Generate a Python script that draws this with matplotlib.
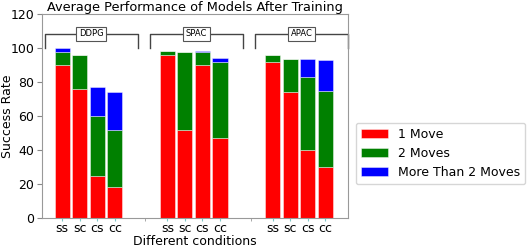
import matplotlib
matplotlib.use('Agg')
import matplotlib.pyplot as plt
import numpy as np

# data (segment heights, stacked)
models = ['DDPG', 'SPAC', 'APAC']
conditions = ['ss', 'sc', 'cs', 'cc']
one_move = [90, 76, 25, 18, 96, 52, 90, 47, 92, 74, 40, 30]
two_moves = [7.5, 20, 35, 34, 2, 45.5, 7.5, 45, 4, 19.5, 43, 45]
more_moves = [2.5, 0, 17, 22, 0, 0, 0.5, 2, 0, 0, 10.5, 18]
series_labels = ['1 Move', '2 Moves', 'More Than 2 Moves']

def bar_positions():
  xs = []
  for g in range(len(models)):
    for c in range(len(conditions)):
      xs.append(g * 6 + c)
  return np.array(xs)

def add_bracket(ax, x0, x1, label):
  ax.plot([x0, x0, x1, x1], [100, 108.2, 108.2, 100], color='#444444', lw=1.0, clip_on=False)
  ax.text((x0 + x1) / 2, 108.5, label, ha='center', va='center', fontsize=6,
          bbox=dict(boxstyle='square,pad=0.3', fc='white', ec='#555555', lw=0.8))

if __name__ == '__main__':
  fs = 9
  fig = plt.figure(figsize=(5.29, 2.46), dpi=100)
  ax = fig.add_axes([42 / 529, 28 / 246, 306 / 529, 204 / 246])
  x = bar_positions()
  b1 = np.array(one_move)
  b2 = np.array(two_moves)
  b3 = np.array(more_moves)
  ec = (1, 1, 1, 0.5)
  ax.bar(x, b1, width=0.86, color='red', edgecolor=ec, lw=0.6, label=series_labels[0])
  ax.bar(x, b2, width=0.86, bottom=b1, color='green', edgecolor=ec, lw=0.6, label=series_labels[1])
  ax.bar(x, b3, width=0.86, bottom=b1 + b2, color='blue', edgecolor=ec, lw=0.6, label=series_labels[2])

  for g in range(len(models)):
    add_bracket(ax, g * 6 - 1.0, g * 6 + 4.3, models[g])

  ax.set_xlim(-1.15, 16.3)
  ax.set_ylim(0, 120)
  ax.set_xticks(x)
  ax.set_xticklabels(conditions * len(models), fontsize=fs)
  ax.set_xticks([4.75, 10.75], minor=True)
  ax.tick_params(axis='x', which='major', color='#7fc6c6', length=2.5, pad=0.5)
  ax.tick_params(axis='x', which='minor', color='#999999', length=2)
  ax.tick_params(axis='y', labelsize=fs, color='#888888', pad=2)
  for s in ax.spines.values():
    s.set_color('#999999')
  ax.set_title('Average Performance of Models After Training', fontsize=9.3, pad=1.5)
  ax.set_xlabel('Different conditions', fontsize=fs)
  ax.set_ylabel('Success Rate', fontsize=fs)
  ax.xaxis.set_label_coords(0.5, -0.081)
  ax.yaxis.set_label_coords(-0.09, 0.5)
  ax.legend(loc='upper left', bbox_to_anchor=(1.025, 0.467), borderaxespad=0,
            fontsize=fs, handlelength=2.2)
  fig.savefig('out.png', dpi=100)
